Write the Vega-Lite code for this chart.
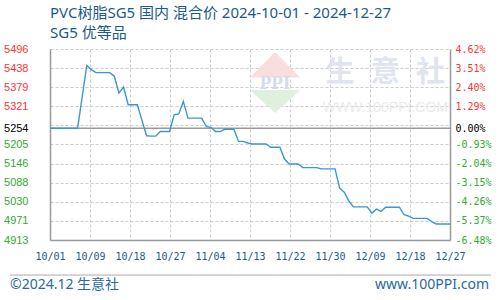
{
  "$schema": "https://vega.github.io/schema/vega-lite/v6.json",
  "width": 400,
  "height": 191,
  "autosize": {"type": "none"},
  "padding": {"left": 50, "top": 49, "right": 50, "bottom": 60},
  "background": "white",
  "config": {"view": {"stroke": null}, "axis": {"ticks": false, "title": null}},
  "title": {
    "text": "PVC树脂SG5 国内 混合价 2024-10-01 - 2024-12-27",
    "subtitle": "SG5 优等品",
    "anchor": "start",
    "frame": "group",
    "font": "Noto Sans, Noto Sans CJK SC",
    "fontSize": 15,
    "fontWeight": "normal",
    "color": "#1a5a8c",
    "subtitleFont": "Noto Sans, Noto Sans CJK SC",
    "subtitleFontSize": 15,
    "subtitleColor": "#1a5a8c",
    "offset": 2,
    "subtitlePadding": 5
  },
  "resolve": {"scale": {"y": "shared", "x": "shared"}, "axis": {"y": "independent", "x": "independent"}},
  "layer": [
    {
      "data": {"values": [{}]},
      "mark": {"type": "text", "text": "生\u2002\u200a意\u2002\u200a社", "font": "Noto Sans CJK SC", "fontSize": 29, "fontWeight": "bold", "color": "#dfe4ee", "align": "center", "baseline": "middle"},
      "encoding": {
        "x": {"datum": 1734041880000, "type": "temporal", "axis": null},
        "y": {"datum": 5424, "type": "quantitative", "axis": null}
      }
    },
    {
      "data": {"values": [{}]},
      "mark": {"type": "text", "text": "WWW.100PPI.COM", "font": "Liberation Sans", "fontSize": 14, "color": "#ebebeb", "align": "center", "baseline": "middle"},
      "encoding": {
        "x": {"datum": 1734041880000, "type": "temporal", "axis": null},
        "y": {"datum": 5316, "type": "quantitative", "axis": null}
      }
    },
    {
      "data": {"values": [{}]},
      "mark": {"type": "point", "shape": "M0,-1.22L1,-0.2L-1,-0.2Z", "filled": true, "color": "#f9dede", "opacity": 1, "size": 2500},
      "encoding": {
        "x": {"datum": 1731969000000, "type": "temporal", "axis": null},
        "y": {"datum": 5394, "type": "quantitative", "axis": null}
      }
    },
    {
      "data": {"values": [{}]},
      "mark": {"type": "point", "shape": "M-1,0.3L1,0.3L0,1.22Z", "filled": true, "color": "#dff0df", "opacity": 1, "size": 2500},
      "encoding": {
        "x": {"datum": 1731969000000, "type": "temporal", "axis": null},
        "y": {"datum": 5394, "type": "quantitative", "axis": null}
      }
    },
    {
      "data": {"values": [{}]},
      "mark": {"type": "text", "text": "PPI", "font": "Liberation Serif", "fontSize": 19, "fontWeight": "bold", "color": "#d3dbee", "align": "center", "baseline": "middle"},
      "encoding": {
        "x": {"datum": 1731969000000, "type": "temporal", "axis": null},
        "y": {"datum": 5391, "type": "quantitative", "axis": null}
      }
    },
    {
      "data": {"values": [{}]},
      "mark": {"type": "rule", "color": "#999999", "strokeWidth": 1.5},
      "encoding": {
        "y": {
          "datum": 5254,
          "type": "quantitative",
          "scale": {"domain": [4913, 5496], "nice": false, "zero": false},
          "axis": {
            "orient": "right",
            "values": [4913, 4971, 5030, 5088, 5146, 5205, 5254, 5321, 5379, 5438, 5496],
            "labelExpr": "datum.value == 5254 ? '0.00%' : (datum.value < 5254 ? '-' : '') + format(abs(4.62 - 1.11 * round((5496 - datum.value) / 58.3)), '.2f') + '%'",
            "labelColor": {"expr": "datum.value > 5256 ? '#ff3333' : datum.value < 5252 ? '#33aa33' : '#000000'"},
            "labelFont": "DejaVu Sans Mono",
            "labelFontSize": 10,
            "labelPadding": 5,
            "labelOverlap": false,
            "labelFlush": false,
            "grid": false,
            "domain": true,
            "domainColor": "#999999",
            "domainWidth": 1.5,
            "ticks": false,
            "title": null
          }
        }
      }
    },
    {
      "data": {
        "values": [
          {"date": "2024-10-01", "price": 5254},
          {"date": "2024-10-02", "price": 5254},
          {"date": "2024-10-03", "price": 5254},
          {"date": "2024-10-04", "price": 5254},
          {"date": "2024-10-05", "price": 5254},
          {"date": "2024-10-06", "price": 5254},
          {"date": "2024-10-07", "price": 5254},
          {"date": "2024-10-08", "price": 5350},
          {"date": "2024-10-09", "price": 5446},
          {"date": "2024-10-10", "price": 5433},
          {"date": "2024-10-11", "price": 5424},
          {"date": "2024-10-12", "price": 5424},
          {"date": "2024-10-13", "price": 5424},
          {"date": "2024-10-14", "price": 5424},
          {"date": "2024-10-15", "price": 5413},
          {"date": "2024-10-16", "price": 5362},
          {"date": "2024-10-17", "price": 5380},
          {"date": "2024-10-18", "price": 5326},
          {"date": "2024-10-19", "price": 5326},
          {"date": "2024-10-20", "price": 5326},
          {"date": "2024-10-21", "price": 5278},
          {"date": "2024-10-22", "price": 5231},
          {"date": "2024-10-23", "price": 5230},
          {"date": "2024-10-24", "price": 5230},
          {"date": "2024-10-25", "price": 5244},
          {"date": "2024-10-26", "price": 5244},
          {"date": "2024-10-27", "price": 5244},
          {"date": "2024-10-28", "price": 5295},
          {"date": "2024-10-29", "price": 5298},
          {"date": "2024-10-30", "price": 5336},
          {"date": "2024-10-31", "price": 5285},
          {"date": "2024-11-01", "price": 5285},
          {"date": "2024-11-02", "price": 5285},
          {"date": "2024-11-03", "price": 5285},
          {"date": "2024-11-04", "price": 5259},
          {"date": "2024-11-05", "price": 5257},
          {"date": "2024-11-06", "price": 5244},
          {"date": "2024-11-07", "price": 5244},
          {"date": "2024-11-08", "price": 5251},
          {"date": "2024-11-09", "price": 5251},
          {"date": "2024-11-10", "price": 5251},
          {"date": "2024-11-11", "price": 5214},
          {"date": "2024-11-12", "price": 5214},
          {"date": "2024-11-13", "price": 5209},
          {"date": "2024-11-14", "price": 5206},
          {"date": "2024-11-15", "price": 5206},
          {"date": "2024-11-16", "price": 5206},
          {"date": "2024-11-17", "price": 5206},
          {"date": "2024-11-18", "price": 5196},
          {"date": "2024-11-19", "price": 5196},
          {"date": "2024-11-20", "price": 5196},
          {"date": "2024-11-21", "price": 5160},
          {"date": "2024-11-22", "price": 5145},
          {"date": "2024-11-23", "price": 5145},
          {"date": "2024-11-24", "price": 5145},
          {"date": "2024-11-25", "price": 5134},
          {"date": "2024-11-26", "price": 5134},
          {"date": "2024-11-27", "price": 5134},
          {"date": "2024-11-28", "price": 5134},
          {"date": "2024-11-29", "price": 5130},
          {"date": "2024-11-30", "price": 5130},
          {"date": "2024-12-01", "price": 5130},
          {"date": "2024-12-02", "price": 5130},
          {"date": "2024-12-03", "price": 5071},
          {"date": "2024-12-04", "price": 5059},
          {"date": "2024-12-05", "price": 5032},
          {"date": "2024-12-06", "price": 5014},
          {"date": "2024-12-07", "price": 5014},
          {"date": "2024-12-08", "price": 5014},
          {"date": "2024-12-09", "price": 5014},
          {"date": "2024-12-10", "price": 4995},
          {"date": "2024-12-11", "price": 5007},
          {"date": "2024-12-12", "price": 5000},
          {"date": "2024-12-13", "price": 5013},
          {"date": "2024-12-14", "price": 5013},
          {"date": "2024-12-15", "price": 5013},
          {"date": "2024-12-16", "price": 5013},
          {"date": "2024-12-17", "price": 4990},
          {"date": "2024-12-18", "price": 4986},
          {"date": "2024-12-19", "price": 4979},
          {"date": "2024-12-20", "price": 4979},
          {"date": "2024-12-21", "price": 4979},
          {"date": "2024-12-22", "price": 4979},
          {"date": "2024-12-23", "price": 4969},
          {"date": "2024-12-24", "price": 4962},
          {"date": "2024-12-25", "price": 4962},
          {"date": "2024-12-26", "price": 4962},
          {"date": "2024-12-27", "price": 4962}
        ]
      },
      "mark": {"type": "line", "color": "#3c96d4", "strokeWidth": 1.4},
      "encoding": {
        "x": {
          "field": "date",
          "type": "temporal",
          "scale": {"type": "utc", "nice": false, "domain": [1727740800000, 1735257600000]},
          "axis": {
            "values": [1727740800000, 1728492480000, 1729244160000, 1729995840000, 1730747520000, 1731499200000, 1732250880000, 1733002560000, 1733754240000, 1734505920000, 1735257600000],
            "format": "%m/%d",
            "labelFont": "DejaVu Sans Mono",
            "labelFontSize": 10,
            "labelColor": "#1a5a8c",
            "labelPadding": 11,
            "labelFlush": false,
            "labelOverlap": false,
            "labelAngle": 0,
            "grid": true,
            "gridColor": "#cccccc",
            "gridDash": [3, 2],
            "domain": true,
            "domainColor": "#999999",
            "domainWidth": 1.5,
            "ticks": false,
            "title": null
          }
        },
        "y": {
          "field": "price",
          "type": "quantitative",
          "scale": {"domain": [4913, 5496], "nice": false, "zero": false},
          "axis": {
            "orient": "left",
            "values": [4913, 4971, 5030, 5088, 5146, 5205, 5254, 5263, 5321, 5379, 5438, 5496],
            "labelExpr": "datum.value == 5263 ? '' : datum.label",
            "format": "d",
            "labelColor": {"expr": "datum.value > 5256 ? '#ff3333' : datum.value < 5252 ? '#33aa33' : '#000000'"},
            "labelFont": "Liberation Sans",
            "labelFontSize": 11,
            "labelPadding": 22,
            "labelOverlap": false,
            "labelFlush": false,
            "grid": true,
            "gridColor": "#cccccc",
            "gridDash": [3, 2],
            "domain": true,
            "domainColor": "#999999",
            "domainWidth": 1.5,
            "ticks": false,
            "title": null
          }
        }
      }
    },
    {
      "data": {"values": [{}]},
      "mark": {"type": "rule", "color": "#aaaaaa", "strokeWidth": 1},
      "encoding": {
        "x": {"datum": 1726989120000, "type": "temporal", "axis": null},
        "x2": {"datum": 1736028300000},
        "y": {"datum": 4806, "type": "quantitative", "axis": null}
      }
    },
    {
      "data": {"values": [{}]},
      "mark": {"type": "text", "text": "©2024.12 生意社", "font": "Noto Sans, Noto Sans CJK SC", "fontSize": 14, "color": "#2a6aa0", "align": "left", "baseline": "middle"},
      "encoding": {
        "x": {"datum": 1726989120000, "type": "temporal", "axis": null},
        "y": {"datum": 4776, "type": "quantitative", "axis": null}
      }
    },
    {
      "data": {"values": [{}]},
      "mark": {"type": "text", "text": "www.100PPI.com", "font": "Noto Sans, Noto Sans CJK SC", "fontSize": 14, "color": "#2a6aa0", "align": "right", "baseline": "middle"},
      "encoding": {
        "x": {"datum": 1735990200000, "type": "temporal", "axis": null},
        "y": {"datum": 4776, "type": "quantitative", "axis": null}
      }
    }
  ]
}
